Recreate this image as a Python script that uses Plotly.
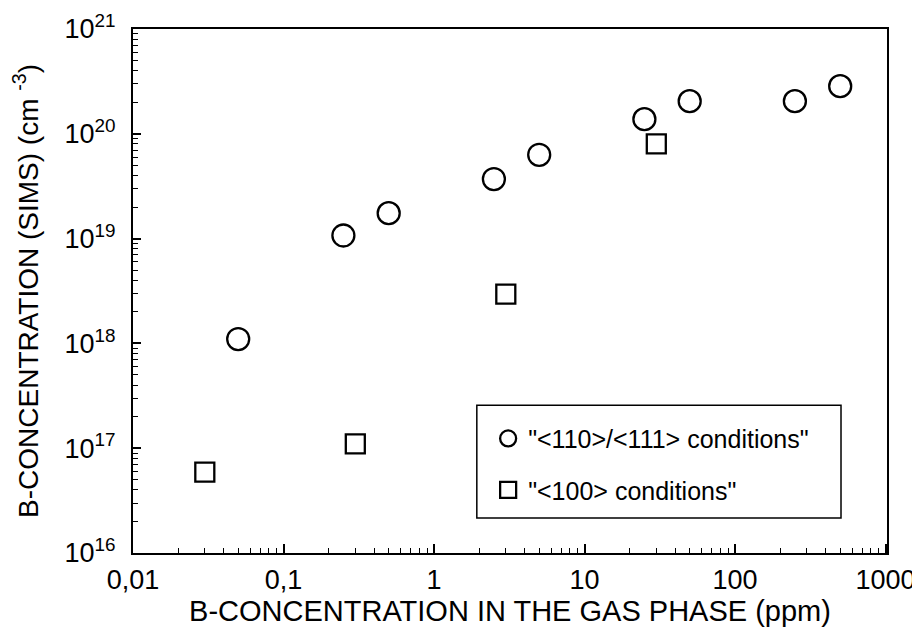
import plotly.graph_objects as go

# Data
gas_110 = [0.05, 0.25, 0.5, 2.5, 5, 25, 50, 250, 500]
sims_110 = [1.1e18, 1.07e19, 1.75e19, 3.7e19, 6.3e19, 1.38e20, 2.05e20, 2.05e20, 2.85e20]

gas_100 = [0.03, 0.3, 3, 30]
sims_100 = [5.9e16, 1.1e17, 2.95e18, 8.0e19]

name_110 = '"<110>/<111> conditions"'
name_100 = '"<100> conditions"'

x_tickvals = [0.01, 0.1, 1, 10, 100, 1000]
x_ticktext = ["0,01", "0,1", "1", "10", "100", "1000"]
y_tickvals = [1e16, 1e17, 1e18, 1e19, 1e20, 1e21]
y_ticktext = ["10<sup>16</sup>", "10<sup>17</sup>", "10<sup>18</sup>",
              "10<sup>19</sup>", "10<sup>20</sup>", "10<sup>21</sup>"]

x_title = "B-CONCENTRATION IN THE GAS PHASE (ppm)"
y_title = "B-CONCENTRATION (SIMS) (cm <sup>-3</sup>)"

FONT = "Liberation Sans, Arial, sans-serif"

def minor_vals(lo, hi):
    vals = []
    for e in range(lo, hi):
        for m in range(2, 10):
            vals.append(float(m) * 10.0 ** e)
    return vals

fig = go.Figure()
fig.add_trace(go.Scatter(
    x=gas_110, y=sims_110, mode="markers", name=name_110, legendgroup="a",
    marker=dict(symbol="circle-open", size=22, color="black", line=dict(width=2.3, color="black")),
))
fig.add_trace(go.Scatter(
    x=gas_100, y=sims_100, mode="markers", name=name_100, legendgroup="b",
    marker=dict(symbol="square-open", size=19, color="black", line=dict(width=2.3, color="black")),
))

# legend frame
fig.add_shape(type="rect", xref="paper", yref="paper",
              x0=0.456, x1=0.939, y0=0.067, y1=0.282,
              line=dict(color="black", width=1.5), fillcolor="rgba(0,0,0,0)")

# y axis title
fig.add_annotation(text=y_title, xref="paper", yref="paper", x=-0.142, y=0.5,
                   xanchor="center", yanchor="middle", textangle=-90, showarrow=False,
                   font=dict(family=FONT, size=28, color="black"))

fig.update_layout(
    width=912, height=631,
    margin=dict(l=125, r=33, t=21, b=86),
    paper_bgcolor="white", plot_bgcolor="white",
    font=dict(family=FONT, color="black", size=27),
    showlegend=True,
    legend=dict(
        x=0.471, y=0.262, xanchor="left", yanchor="top",
        bgcolor="rgba(0,0,0,0)", borderwidth=0,
        font=dict(family=FONT, size=25, color="black"),
        tracegroupgap=16, itemsizing="trace",
    ),
    xaxis=dict(
        type="log", range=[-2, 3.01], automargin=False,
        tickvals=x_tickvals, ticktext=x_ticktext,
        ticks="inside", ticklen=9, tickwidth=1.6, tickcolor="black",
        ticklabelstandoff=2,
        minor=dict(tickvals=minor_vals(-2, 3), ticks="inside", ticklen=5, tickwidth=1.4, tickcolor="black"),
        showline=True, linewidth=2, linecolor="black", mirror=True,
        showgrid=False, zeroline=False,
        tickfont=dict(family=FONT, size=27),
        title=dict(text=x_title, font=dict(family=FONT, size=29), standoff=6),
    ),
    yaxis=dict(
        type="log", range=[16, 21], automargin=False,
        tickvals=y_tickvals, ticktext=y_ticktext,
        ticks="inside", ticklen=8, tickwidth=1.6, tickcolor="black",
        ticklabelstandoff=10,
        minor=dict(tickvals=minor_vals(16, 21), ticks="inside", ticklen=5, tickwidth=1.4, tickcolor="black"),
        showline=True, linewidth=2, linecolor="black", mirror=True,
        showgrid=False, zeroline=False,
        tickfont=dict(family=FONT, size=27),
    ),
)

fig.write_html("out.html")
